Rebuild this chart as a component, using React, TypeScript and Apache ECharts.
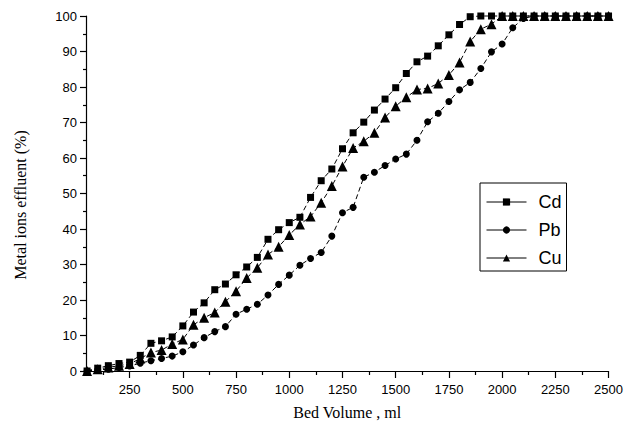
import React, { useEffect, useRef } from "react";
import * as echarts from "echarts";

const bedVolume = [
  50, 100, 150, 200, 250, 300, 350, 400, 450, 500,
  550, 600, 650, 700, 750, 800, 850, 900, 950, 1000,
  1050, 1100, 1150, 1200, 1250, 1300, 1350, 1400, 1450, 1500,
  1550, 1600, 1650, 1700, 1750, 1800, 1850, 1900, 1950, 2000,
  2050, 2100, 2150, 2200, 2250, 2300, 2350, 2400, 2450, 2500,
];

const cd = [
  0, 0.8, 1.5, 2.1, 2.5, 4.4, 7.8, 8.5, 9.6, 12.7,
  16.6, 19.2, 22.9, 24.5, 27.1, 29.3, 32.0, 37.1, 39.8, 41.8,
  43.3, 48.9, 53.6, 56.9, 62.6, 67.1, 70.1, 73.5, 76.6, 79.8,
  83.8, 87.1, 88.7, 91.6, 94.7, 97.6, 99.8, 100, 100, 100,
  100, 100, 100, 100, 100, 100, 100, 100, 100, 100,
];

const pb = [
  0, 0.3, 0.5, 1.0, 1.4, 2.2, 2.9, 3.5, 4.2, 5.4,
  7.3, 9.4, 11.1, 12.5, 16.0, 17.4, 18.8, 21.4, 24.4, 27.0,
  29.8, 31.7, 33.4, 38.0, 44.6, 46.1, 54.6, 56.0, 57.9, 59.7,
  61.1, 65.0, 70.2, 72.6, 75.9, 79.2, 81.3, 85.2, 89.9, 92.1,
  96.7, 99.3, 100, 100, 100, 100, 100, 100, 100, 100,
];

const cu = [
  0, 0.5, 1.0, 1.5, 2.0, 3.5, 5.2, 5.9, 7.6, 8.9,
  13.0, 15.0, 16.5, 19.5, 22.5, 26.2, 29.1, 32.8, 35.0, 38.3,
  41.3, 43.5, 47.4, 52.1, 57.6, 62.8, 64.7, 67.1, 71.4, 74.6,
  77.1, 79.3, 79.6, 81.0, 83.4, 86.9, 92.8, 96.3, 97.7, 100,
  100, 100, 100, 100, 100, 100, 100, 100, 100, 100,
];

const xMajorTicks = [250, 500, 750, 1000, 1250, 1500, 1750, 2000, 2250, 2500];
const xMinorTicks = [125, 375, 625, 875, 1125, 1375, 1625, 1875, 2125, 2375];

const seriesNames = ["Cd", "Pb", "Cu"];

export default function App() {
  const ref = useRef<HTMLDivElement>(null);

  useEffect(() => {
    if (!ref.current) return;
    const chart = echarts.init(ref.current, null, { renderer: "svg" });
    const pair = (vals: number[]) => bedVolume.map((x, i) => [x, vals[i]]);
    const axisFont = { fontFamily: "Liberation Sans, Arial", fontSize: 13, color: "#000" };
    const lineStyle = { color: "#000", width: 1, type: [5, 3] as any };

    chart.setOption({
      animation: false,
      backgroundColor: "#fff",
      grid: { left: 86, right: 15, top: 16, bottom: 61, containLabel: false },
      legend: {
        orient: "vertical",
        left: 480,
        top: 183,
        padding: [10, 5, 4, 6],
        borderColor: "#000",
        borderWidth: 1,
        itemWidth: 40,
        itemHeight: 9,
        itemGap: 10,
        data: seriesNames,
        lineStyle: { type: "solid", width: 1, color: "#000" },
        textStyle: { fontFamily: "Liberation Sans, Arial", fontSize: 18, color: "#000", padding: [0, 0, 0, 7] },
      },
      xAxis: [
        {
          type: "value",
          min: 45,
          max: 2500,
          name: "Bed Volume , ml",
          nameLocation: "middle",
          nameGap: 33,
          nameTextStyle: { fontFamily: "Liberation Serif, Times New Roman", fontSize: 16, color: "#000" },
          axisLine: { show: true, lineStyle: { color: "#000", width: 1.2 } },
          axisTick: { show: true, length: 7, customValues: xMajorTicks, lineStyle: { color: "#000", width: 1.2 } },
          axisLabel: { ...axisFont, margin: 12, customValues: xMajorTicks, formatter: (v: number) => String(v) },
          splitLine: { show: false },
        },
        {
          type: "value",
          min: 45,
          max: 2500,
          position: "bottom",
          axisLine: { show: false },
          axisTick: { show: true, length: 4, customValues: xMinorTicks, lineStyle: { color: "#000", width: 1.2 } },
          axisLabel: { show: false },
          splitLine: { show: false },
        },
      ],
      yAxis: {
        type: "value",
        min: 0,
        max: 100,
        interval: 10,
        axisLine: { show: true, lineStyle: { color: "#000", width: 1.2 } },
        axisTick: { show: true, length: 6, lineStyle: { color: "#000", width: 1.2 } },
        minorTick: { show: true, splitNumber: 2, length: 3, lineStyle: { color: "#000", width: 1.2 } },
        axisLabel: { ...axisFont, margin: 9, formatter: (v: number) => String(v) },
        splitLine: { show: false },
      },
      graphic: [
        {
          type: "text",
          x: 20,
          y: 205,
          rotation: Math.PI / 2,
          style: {
            text: "Metal ions effluent (%)",
            fontFamily: "Liberation Serif, Times New Roman",
            fontSize: 16,
            fill: "#000",
            align: "center",
            verticalAlign: "middle",
          },
        },
      ],
      series: [
        {
          name: "Cd",
          type: "line",
          data: pair(cd),
          symbol: "rect",
          symbolSize: 7,
          clip: false,
          itemStyle: { color: "#000" },
          lineStyle,
          z: 2,
        },
        {
          name: "Pb",
          type: "line",
          data: pair(pb),
          symbol: "circle",
          symbolSize: 7,
          clip: false,
          itemStyle: { color: "#000" },
          lineStyle,
          z: 3,
        },
        {
          name: "Cu",
          type: "line",
          data: pair(cu),
          symbol: "triangle",
          symbolSize: 10,
          clip: false,
          itemStyle: { color: "#000" },
          lineStyle,
          z: 4,
        },
      ],
    });
    return () => chart.dispose();
  }, []);

  return <div ref={ref} style={{ position: "fixed", left: 0, top: 0, width: 626, height: 432 }} />;
}
